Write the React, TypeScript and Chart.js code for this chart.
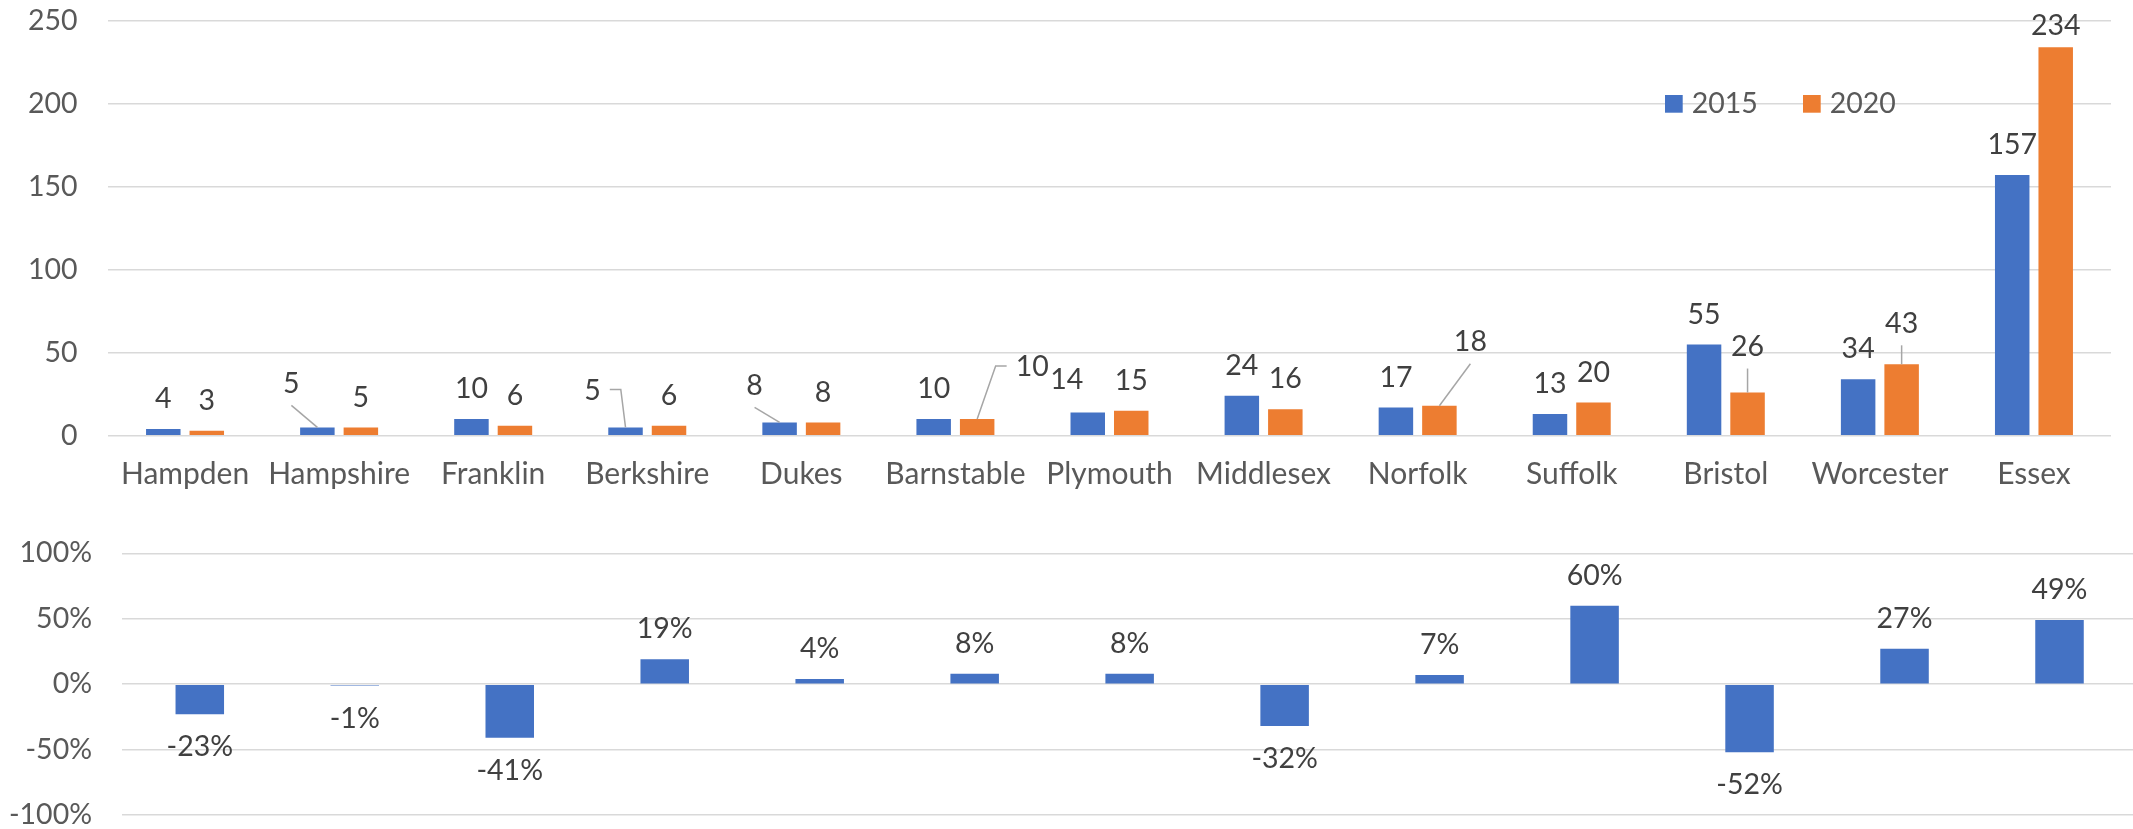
import React, { useEffect, useRef } from 'react';
import { Chart, registerables } from 'chart.js';

Chart.register(...registerables);

// ---------- data ----------
const counties = ['Hampden', 'Hampshire', 'Franklin', 'Berkshire', 'Dukes', 'Barnstable', 'Plymouth', 'Middlesex', 'Norfolk', 'Suffolk', 'Bristol', 'Worcester', 'Essex'];
const seriesNames = ['2015', '2020'];
const values2015 = [4, 5, 10, 5, 8, 10, 14, 24, 17, 13, 55, 34, 157];
const values2020 = [3, 5, 6, 6, 8, 10, 15, 16, 18, 20, 26, 43, 234];
const pctChange = [-23, -1, -41, 19, 4, 8, 8, -32, 7, 60, -52, 27, 49];
const countAxis = { min: 0, max: 250, step: 50 };
const pctAxis = { min: -100, max: 100, step: 50 };

// ---------- label placement (manual moves, as in the original) ----------
const offsets2015 = [[0, 0], [-26, -14], [0, 0], [-33, -7], [-25, -7], [0, 0], [-21, -3], [0, 0], [0, 0], [0, 0], [0, 0], [0, 0], [0, 0]];
const offsets2020 = [[0, 0], [0, 0], [0, 0], [0, 0], [0, 0], [55, -22], [0, 0], [0, 0], [31, -34], [0, 0], [0, -16], [0, -11], [0, 9]];
const leaders2015 = ['', 'line', '', 'elbow', 'line', '', '', '', '', '', '', '', ''];
const leaders2020 = ['', '', '', '', '', 'elbow', '', '', 'line', '', 'line', 'line', ''];

// ---------- styles ----------
const FONT = 'Lato, "Open Sans", sans-serif';
const FS = 28.5;
const CAT_FS = 30;
const AXIS_COLOR = '#595959';
const LABEL_COLOR = '#404040';
const GRID_COLOR = '#d9d9d9';
const LEADER_COLOR = '#a6a6a6';
const BLUE = '#4472C4';
const ORANGE = '#ED7D31';

const topLabelsPlugin = {
  id: 'topLabels',
  afterDatasetsDraw(chart: any) {
    const ctx = chart.ctx;
    ctx.save();
    ctx.font = `${FS}px ${FONT}`;
    ctx.textAlign = 'center';
    ctx.textBaseline = 'middle';
    chart.data.datasets.forEach((ds: any, di: number) => {
      const meta = chart.getDatasetMeta(di);
      const offs = di === 0 ? offsets2015 : offsets2020;
      const leads = di === 0 ? leaders2015 : leaders2020;
      meta.data.forEach((bar: any, i: number) => {
        const text = String(ds.data[i]);
        const bx = bar.x;
        const by = bar.y;
        const lx = bx + offs[i][0];
        const ly = by - 30 + offs[i][1];
        const w = ctx.measureText(text).width;
        ctx.strokeStyle = LEADER_COLOR;
        ctx.lineWidth = 1.5;
        if (leads[i] === 'line') {
          ctx.beginPath();
          ctx.moveTo(lx, ly + 22);
          ctx.lineTo(bx, by);
          ctx.stroke();
        } else if (leads[i] === 'elbow') {
          const side = offs[i][0] < 0 ? 1 : -1;
          const sx = lx + side * (w / 2 + 9);
          const ex = sx + side * 11;
          ctx.beginPath();
          ctx.moveTo(sx, ly - 1);
          ctx.lineTo(ex, ly - 1);
          ctx.lineTo(bx, by);
          ctx.stroke();
        }
        ctx.fillStyle = LABEL_COLOR;
        ctx.fillText(text, lx, ly);
      });
    });
    // legend inside the plot
    const area = chart.chartArea;
    const sq = 17.7;
    chart.data.datasets.forEach((ds: any, di: number) => {
      const x0 = area.right - 446 + di * 138;
      const y0 = area.top + 74.3;
      ctx.fillStyle = ds.backgroundColor;
      ctx.fillRect(x0, y0, sq, sq);
      ctx.fillStyle = AXIS_COLOR;
      ctx.textAlign = 'left';
      ctx.fillText(ds.label, x0 + 26.7, y0 + sq / 2);
    });
    ctx.restore();
  },
};

const pctLabelsPlugin = {
  id: 'pctLabels',
  afterDatasetsDraw(chart: any) {
    const ctx = chart.ctx;
    ctx.save();
    ctx.font = `${FS}px ${FONT}`;
    ctx.textAlign = 'center';
    ctx.textBaseline = 'middle';
    ctx.fillStyle = LABEL_COLOR;
    const meta = chart.getDatasetMeta(0);
    const data = chart.data.datasets[0].data;
    meta.data.forEach((bar: any, i: number) => {
      const v = data[i];
      const ly = v >= 0 ? bar.y - 30 : bar.y + 33;
      ctx.fillText(`${v}%`, bar.x, ly);
    });
    ctx.restore();
  },
};

export default function App() {
  const topRef = useRef<HTMLCanvasElement>(null);
  const botRef = useRef<HTMLCanvasElement>(null);

  useEffect(() => {
    const tickFont = { family: FONT, size: FS };
    const catFont = { family: FONT, size: CAT_FS };
    const top = new Chart(topRef.current as HTMLCanvasElement, {
      type: 'bar',
      data: {
        labels: counties,
        datasets: [
          { label: seriesNames[0], data: values2015, backgroundColor: BLUE, categoryPercentage: 0.5646, barPercentage: 0.793 },
          { label: seriesNames[1], data: values2020, backgroundColor: ORANGE, categoryPercentage: 0.5646, barPercentage: 0.793 },
        ],
      },
      options: {
        responsive: false,
        animation: false,
        events: [],
        layout: { padding: { left: 0, right: 22, top: 20.7, bottom: 0 } },
        plugins: { legend: { display: false }, tooltip: { enabled: false } },
        scales: {
          x: {
            grid: { display: false, drawTicks: false },
            border: { display: false },
            ticks: { color: AXIS_COLOR, font: catFont, padding: 21, maxRotation: 0, autoSkip: false },
            afterFit: (s: any) => { s.height = 500 - 435.7; s.paddingLeft = 0; s.paddingRight = 0; },
          },
          y: {
            min: countAxis.min,
            max: countAxis.max,
            grid: { color: GRID_COLOR, lineWidth: 1.5, drawTicks: false },
            border: { display: false },
            ticks: { stepSize: countAxis.step, color: AXIS_COLOR, font: tickFont, padding: 30.5 },
            afterFit: (s: any) => { s.width = 108; s.paddingTop = 0; s.paddingBottom = 0; },
          },
        },
      } as any,
      plugins: [topLabelsPlugin],
    });

    const bot = new Chart(botRef.current as HTMLCanvasElement, {
      type: 'bar',
      data: {
        labels: counties,
        datasets: [
          { label: 'Change', data: pctChange, backgroundColor: BLUE, categoryPercentage: 1, barPercentage: 0.313 },
        ],
      },
      options: {
        responsive: false,
        animation: false,
        events: [],
        layout: { padding: { left: 0, right: 3, top: 33.3, bottom: 14 } },
        plugins: { legend: { display: false }, tooltip: { enabled: false } },
        scales: {
          x: { display: false },
          y: {
            min: pctAxis.min,
            max: pctAxis.max,
            grid: { color: GRID_COLOR, lineWidth: 1.5, drawTicks: false },
            border: { display: false },
            ticks: {
              stepSize: pctAxis.step,
              color: AXIS_COLOR,
              font: tickFont,
              padding: 30.3,
              callback: (v: any) => `${v}%`,
            },
            afterFit: (s: any) => { s.width = 122.3; s.paddingTop = 0; s.paddingBottom = 0; },
          },
        },
      } as any,
      plugins: [pctLabelsPlugin],
    });

    return () => {
      top.destroy();
      bot.destroy();
    };
  }, []);

  return (
    <div style={{ position: 'fixed', left: 0, top: 0, width: 2133, height: 829, overflow: 'hidden', background: '#ffffff' }}>
      <canvas ref={topRef} width={2133} height={500} style={{ position: 'absolute', left: 0, top: 0, width: 2133, height: 500 }} />
      <canvas ref={botRef} width={2140} height={309} style={{ position: 'absolute', left: 0, top: 520, width: 2140, height: 309 }} />
    </div>
  );
}
